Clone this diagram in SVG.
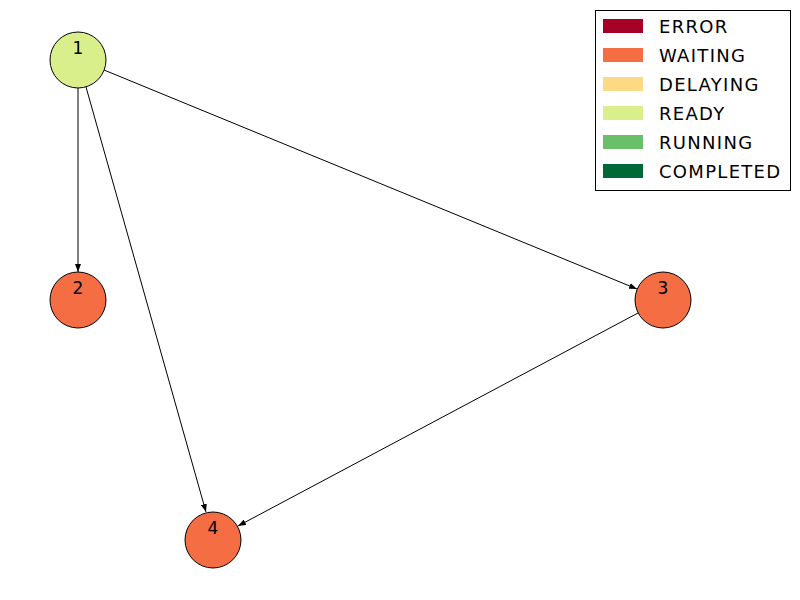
<svg xmlns="http://www.w3.org/2000/svg" width="800" height="600" viewBox="0 0 800 600">
<style>
.node circle{stroke:#000;stroke-width:1}
.node text{font-family:"DejaVu Sans",sans-serif;font-size:17px;text-anchor:middle;fill:#000}
.edge{stroke:#000;stroke-width:1;fill:none;marker-end:url(#arr)}
.leg text{font-family:"DejaVu Sans",sans-serif;font-size:18px;letter-spacing:1.3px;fill:#000}
</style>
<defs>
<marker id="arr" viewBox="0 0 8 6" refX="8" refY="3" markerWidth="8" markerHeight="6" markerUnits="userSpaceOnUse" orient="auto">
<path d="M0,0 L8,3 L0,6 Z" fill="#000"/>
</marker>
</defs>
<rect width="800" height="600" fill="#fff"/>
<g id="edges">
<line class="edge" x1="78" y1="88" x2="78" y2="272"/>
<line class="edge" x1="104" y1="70" x2="637" y2="289"/>
<line class="edge" x1="86" y1="87" x2="206" y2="512"/>
<line class="edge" x1="638" y1="313" x2="238" y2="526"/>
</g>
<g id="node1" class="node"><circle cx="78" cy="60" r="28" fill="#d9ef8b"/><text x="78" y="54">1</text></g>
<g id="node2" class="node"><circle cx="78" cy="300" r="28" fill="#f46d43"/><text x="78" y="294">2</text></g>
<g id="node3" class="node"><circle cx="663" cy="300" r="28" fill="#f46d43"/><text x="663" y="294">3</text></g>
<g id="node4" class="node"><circle cx="213" cy="540" r="28" fill="#f46d43"/><text x="213" y="534">4</text></g>
<g id="legend" class="leg">
<rect x="595.5" y="10.5" width="195" height="180" fill="#fff" stroke="#000" stroke-width="1"/>
<rect x="603" y="19" width="40" height="14" fill="#a50026"/><text x="659" y="33">ERROR</text>
<rect x="603" y="48" width="40" height="14" fill="#f46d43"/><text x="659" y="62">WAITING</text>
<rect x="603" y="77" width="40" height="14" fill="#fdd985"/><text x="659" y="91">DELAYING</text>
<rect x="603" y="106" width="40" height="14" fill="#d9ef8b"/><text x="659" y="120">READY</text>
<rect x="603" y="135" width="40" height="14" fill="#6abf69"/><text x="659" y="149">RUNNING</text>
<rect x="603" y="164" width="40" height="14" fill="#006837"/><text x="659" y="178">COMPLETED</text>
</g>
</svg>
